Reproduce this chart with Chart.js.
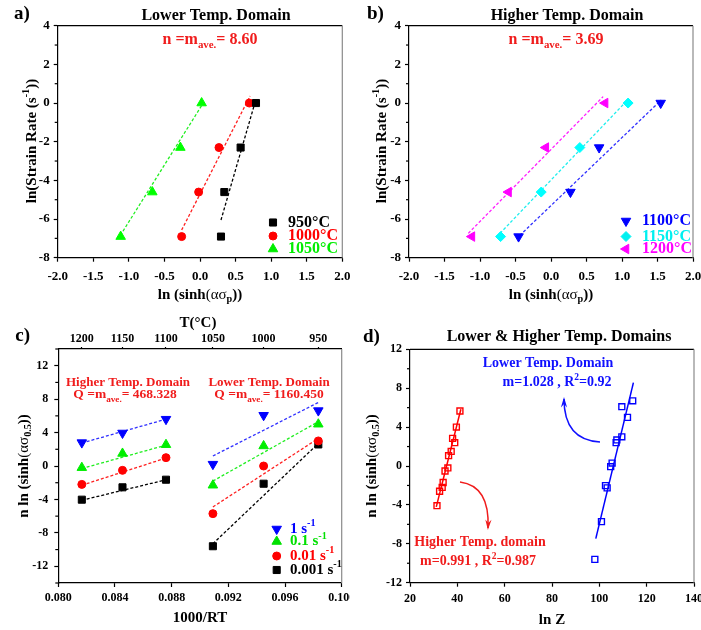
<!DOCTYPE html>
<html>
<head>
<meta charset="utf-8">
<script src="https://cdn.jsdelivr.net/npm/chart.js@4"></script>
<style>
  body { margin: 0; background: #fff; width: 701px; height: 630px; position: relative; overflow: hidden; }
  canvas { position: absolute; }
</style>
</head>
<body>
<canvas id="ca" width="350" height="310" style="left:0;top:0"></canvas>
<canvas id="cb" width="351" height="310" style="left:350px;top:0"></canvas>
<canvas id="cc" width="350" height="320" style="left:0;top:310px"></canvas>
<canvas id="cd" width="351" height="320" style="left:350px;top:310px"></canvas>
<script>
// ---- data ----
// a) lower temp domain: ln(strain rate) vs ln(sinh(a*sigma_p))
const lnRate = [0, -2.303, -4.605, -6.908];
const a950 = [0.787, 0.571, 0.342, 0.295];
const a1000 = [0.693, 0.267, -0.019, -0.258];
const a1050 = [0.023, -0.276, -0.670, -1.115];
const fitA950X = [0.295, 0.775], fitA950Y = [-6.05, 0.05];
const fitA1000X = [-0.258, 0.703], fitA1000Y = [-6.57, 0.36];
const fitA1050X = [-1.12, 0.02], fitA1050Y = [-6.85, -0.15];

// b) higher temp domain
const b1100 = [1.545, 0.678, 0.274, -0.457];
const b1150 = [1.086, 0.406, -0.138, -0.710];
const b1200 = [0.762, -0.073, -0.598, -1.114];
const fitB1100X = [-0.44, 1.554], fitB1100Y = [-6.85, 0.16];
const fitB1150X = [-0.718, 1.08], fitB1150Y = [-6.74, 0.16];
const fitB1200X = [-1.165, 0.734], fitB1200Y = [-6.74, 0.33];

// c) n ln(sinh) vs 1000/RT
const tempC = [1200, 1150, 1100, 1050, 1000, 950];
const invRT = [0.08166, 0.08453, 0.08760, 0.09091, 0.09449, 0.09835];
const c1 = [2.8, 3.95, 5.6, 0.22, 6.07, 6.63];
const c01 = [-0.2, 1.5, 2.55, -2.3, 2.4, 5.0];
const c001 = [-2.2, -0.52, 1.0, -5.7, 0.0, 3.0];
const c0001 = [-4.03, -2.55, -1.64, -9.6, -2.12, 2.58];
const hiX = [0.08166, 0.08760], loX = [0.09091, 0.09835];
const fitHi1 = [2.75, 5.6], fitHi01 = [-0.3, 2.5], fitHi001 = [-2.3, 0.95], fitHi0001 = [-4.1, -1.65];
const fitLo1 = [1.2, 7.6], fitLo01 = [-1.8, 5.3], fitLo001 = [-4.9, 3.3], fitLo0001 = [-9.3, 2.7];

// d) n ln(sinh) vs ln Z
const dHighX = [31.4, 32.5, 33.6, 34.0, 34.8, 36.0, 36.3, 37.4, 38.0, 38.9, 39.6, 41.1];
const dHighY = [-4.08, -2.6, -2.2, -1.7, -0.51, -0.2, 1.06, 1.5, 2.84, 2.4, 4.0, 5.66];
const dLowX = [98.1, 100.9, 102.6, 103.3, 104.8, 105.4, 107.1, 107.4, 109.5, 109.5, 111.9, 114.1];
const dLowY = [-9.6, -5.72, -2.02, -2.25, -0.07, 0.3, 2.4, 2.68, 3.0, 6.1, 5.0, 6.7];
const fitDHighX = [31.1, 41.5], fitDHighY = [-4.2, 5.83];
const fitDLowX = [98.5, 114.4], fitDLowY = [-7.47, 8.57];

// tick labels
const ticksAB_X = [-2, -1.5, -1, -0.5, 0, 0.5, 1, 1.5, 2];
const ticksAB_Y = [-8, -6, -4, -2, 0, 2, 4];
const ticksC_X = [0.080, 0.084, 0.088, 0.092, 0.096, 0.100];
const ticksCD_Y = [-12, -8, -4, 0, 4, 8, 12];
const ticksD_X = [20, 40, 60, 80, 100, 120, 140];

const SERIF = '"Liberation Serif", "Times New Roman", serif';
const RED = '#f01c1c', BLUE = '#1010ff';

function fontFor(size, kind) {
  if (kind === 'g') return size + 'px ' + SERIF;
  const s = (kind === 'sub' || kind === 'sup') ? size * 0.68 : size;
  return 'bold ' + s + 'px ' + SERIF;
}
function rich(ctx, parts, x, y, size, color, align) {
  ctx.save();
  ctx.fillStyle = color;
  ctx.textBaseline = 'middle';
  ctx.textAlign = 'left';
  let w = 0;
  parts.forEach(p => { ctx.font = fontFor(size, p[1]); w += ctx.measureText(p[0]).width; });
  let cx = align === 'center' ? x - w / 2 : align === 'right' ? x - w : x;
  parts.forEach(p => {
    ctx.font = fontFor(size, p[1]);
    const dy = p[1] === 'sub' ? size * 0.32 : p[1] === 'sup' ? -size * 0.35 : 0;
    ctx.fillText(p[0], cx, y + dy);
    cx += ctx.measureText(p[0]).width;
  });
  ctx.restore();
}
function vrich(ctx, parts, x, y, size, color) {
  ctx.save();
  ctx.translate(x, y);
  ctx.rotate(-Math.PI / 2);
  rich(ctx, parts, 0, 0, size, color, 'center');
  ctx.restore();
}
function legend(ctx, items, mx, tx, ys, size) {
  items.forEach((it, i) => {
    ctx.save();
    ctx.fillStyle = it.color;
    ctx.strokeStyle = it.color;
    ctx.lineWidth = 1;
    Chart.helpers.drawPoint(ctx, { pointStyle: it.style, rotation: it.rot || 0, radius: it.r, borderWidth: 1 }, mx, ys[i]);
    ctx.restore();
    rich(ctx, it.label, tx, ys[i], size, it.color, 'left');
  });
}
function arrow(ctx, x0, y0, cx, cy, x1, y1, color) {
  ctx.save();
  ctx.strokeStyle = color; ctx.fillStyle = color; ctx.lineWidth = 1.5;
  ctx.beginPath(); ctx.moveTo(x0, y0); ctx.quadraticCurveTo(cx, cy, x1, y1); ctx.stroke();
  const ang = Math.atan2(y1 - cy, x1 - cx);
  ctx.beginPath();
  ctx.moveTo(x1 + 2 * Math.cos(ang), y1 + 2 * Math.sin(ang));
  ctx.lineTo(x1 - 9 * Math.cos(ang - 0.35), y1 - 9 * Math.sin(ang - 0.35));
  ctx.lineTo(x1 - 5 * Math.cos(ang), y1 - 5 * Math.sin(ang));
  ctx.lineTo(x1 - 9 * Math.cos(ang + 0.35), y1 - 9 * Math.sin(ang + 0.35));
  ctx.closePath(); ctx.fill();
  ctx.restore();
}

function pts(xs, ys) { return xs.map((x, i) => ({ x: x, y: ys[i] })); }
function marks(xs, ys, color, style, rot, r) {
  return { data: pts(xs, ys), pointStyle: style, rotation: rot, pointRadius: r, backgroundColor: color,
    borderColor: color, borderWidth: 1, showLine: false };
}
function openMarks(xs, ys, color, r) {
  return { data: pts(xs, ys), pointStyle: 'rect', pointRadius: r, backgroundColor: 'rgba(255,255,255,0)',
    borderColor: color, borderWidth: 1.4, showLine: false };
}
function fit(xs, ys, color, solid) {
  return { data: pts(xs, ys), showLine: true, borderColor: color, borderWidth: solid ? 1.5 : 1.3,
    borderDash: solid ? [] : [3, 2], pointRadius: 0, fill: false };
}

function axis(min, max, ticks, fmt, size, pad, fitSize, horiz, pos) {
  return {
    type: 'linear', min: min, max: max, position: pos,
    afterBuildTicks: s => { s.ticks = ticks.map(v => ({ value: v })); },
    afterFit: s => {
      // fixed box sizes so the plot areas line up with the figure; labels may overflow
      if (horiz) { s.height = fitSize; s.paddingLeft = 0; s.paddingRight = 0; }
      else { s.width = fitSize; s.paddingTop = 0; s.paddingBottom = 0; }
    },
    ticks: { autoSkip: false, maxRotation: 0, padding: pad, color: '#000',
      font: { family: SERIF, weight: 'bold', size: size }, callback: fmt },
    grid: { drawOnChartArea: false, tickLength: 4, color: '#000', tickWidth: 1.2 },
    border: { color: '#000', width: 1.2 }
  };
}

function deco(draw, minorY, topLine) {
  return {
    id: 'deco',
    afterDraw(chart) {
      const ctx = chart.ctx, a = chart.chartArea, y = chart.scales.y;
      ctx.save();
      ctx.strokeStyle = '#000'; ctx.lineWidth = 1.2;
      minorY.forEach(v => {
        const py = y.getPixelForValue(v);
        ctx.beginPath(); ctx.moveTo(a.left, py); ctx.lineTo(a.left - 3, py); ctx.stroke();
      });
      if (topLine) { ctx.beginPath(); ctx.moveTo(a.left, a.top); ctx.lineTo(a.right, a.top); ctx.stroke(); }
      ctx.strokeStyle = '#8a8a8a';
      ctx.beginPath(); ctx.moveTo(a.right, a.top); ctx.lineTo(a.right, a.bottom); ctx.stroke();
      ctx.restore();
      draw(ctx, a);
    }
  };
}

function make(id, datasets, scales, padding, plugin) {
  return new Chart(document.getElementById(id), {
    type: 'scatter',
    data: { datasets: datasets },
    options: {
      responsive: false, animation: false,
      layout: { padding: padding },
      plugins: { legend: { display: false }, tooltip: { enabled: false } },
      scales: scales
    },
    plugins: [plugin]
  });
}

const f1 = v => v.toFixed(1);
const f0 = v => String(v);
const minorAB = [-7, -5, -3, -1, 1, 3];
const minorCD = [-14, -10, -6, -2, 2, 6, 10, 14];
const xTitleAB = [['ln (sinh', ''], ['(\u03b1\u03c3', 'g'], ['p', 'sub'], ['))', '']];
const yTitleAB = [['ln(Strain Rate (s', ''], ['-1', 'sup'], ['))', '']];
const yTitleCD = [['n ln (sinh', ''], ['(\u03b1\u03c3', 'g'], ['0.5', 'sub'], ['))', '']];

// ---- a) ----
make('ca', [
  marks(a950, lnRate, '#000', 'rect', 0, 5),
  marks(a1000, lnRate, '#ff0000', 'circle', 0, 4),
  marks(a1050, lnRate, '#00ff00', 'triangle', 0, 5.5),
  fit(fitA950X, fitA950Y, '#000'),
  fit(fitA1000X, fitA1000Y, '#ff2020'),
  fit(fitA1050X, fitA1050Y, '#20ee20')
], {
  x: axis(-2, 2, ticksAB_X, f1, 13, 7, 52.3, true, 'bottom'),
  y: axis(-8, 4, ticksAB_Y, f0, 13, 4, 57.7, false, 'left')
}, { left: 0, top: 25.7, right: 7.7, bottom: 0 }, deco((ctx, a) => {
  rich(ctx, [['a)', '']], 14, 14, 19, '#000', 'left');
  rich(ctx, [['Lower Temp. Domain', '']], 216, 16, 16, '#000', 'center');
  rich(ctx, [['n =m', ''], ['ave.', 'sub'], ['= 8.60', '']], 210, 40, 16, RED, 'center');
  rich(ctx, xTitleAB, 200, 295, 15, '#000', 'center');
  vrich(ctx, yTitleAB, 32, 141, 15, '#000');
  legend(ctx, [
    { color: '#000', style: 'rect', r: 5, label: [['950\u00b0C', '']] },
    { color: '#ff0000', style: 'circle', r: 4, label: [['1000\u00b0C', '']] },
    { color: '#00ee00', style: 'triangle', r: 5.5, label: [['1050\u00b0C', '']] }
  ], 273, 288, [222.5, 236, 249], 16);
}, minorAB, true));

// ---- b) ----
make('cb', [
  marks(b1100, lnRate, '#0000ff', 'triangle', 180, 5.5),
  marks(b1150, lnRate, '#00ffff', 'rectRot', 0, 5),
  marks(b1200, lnRate, '#ff00ff', 'triangle', 270, 5.5),
  fit(fitB1100X, fitB1100Y, '#3030ff'),
  fit(fitB1150X, fitB1150Y, '#20eeee'),
  fit(fitB1200X, fitB1200Y, '#ff20ff')
], {
  x: axis(-2, 2, ticksAB_X, f1, 13, 7, 52.3, true, 'bottom'),
  y: axis(-8, 4, ticksAB_Y, f0, 13, 4, 59, false, 'left')
}, { left: 0, top: 25.7, right: 8, bottom: 0 }, deco((ctx, a) => {
  rich(ctx, [['b)', '']], 17, 14, 19, '#000', 'left');
  rich(ctx, [['Higher Temp. Domain', '']], 217, 16, 16, '#000', 'center');
  rich(ctx, [['n =m', ''], ['ave.', 'sub'], ['= 3.69', '']], 206, 40, 16, RED, 'center');
  rich(ctx, xTitleAB, 201, 295, 15, '#000', 'center');
  vrich(ctx, yTitleAB, 32, 141, 15, '#000');
  legend(ctx, [
    { color: '#0000ff', style: 'triangle', rot: 180, r: 5.5, label: [['1100\u00b0C', '']] },
    { color: '#00f0f0', style: 'rectRot', r: 5, label: [['1150\u00b0C', '']] },
    { color: '#ff00ff', style: 'triangle', rot: 270, r: 5.5, label: [['1200\u00b0C', '']] }
  ], 276, 292, [221, 236.5, 249], 16);
}, minorAB, true));

// ---- c) ----
make('cc', [
  marks(invRT, c1, '#0000ff', 'triangle', 180, 5.5),
  marks(invRT, c01, '#00ee00', 'triangle', 0, 5.5),
  marks(invRT, c001, '#ff0000', 'circle', 0, 4),
  marks(invRT, c0001, '#000', 'rect', 0, 5),
  fit(hiX, fitHi1, '#3030ff'), fit(hiX, fitHi01, '#20ee20'), fit(hiX, fitHi001, '#ff2020'), fit(hiX, fitHi0001, '#000'),
  fit(loX, fitLo1, '#3030ff'), fit(loX, fitLo01, '#20ee20'), fit(loX, fitLo001, '#ff2020'), fit(loX, fitLo0001, '#000')
], {
  x: axis(0.08, 0.1, ticksC_X, v => v.toFixed(3), 12, 4, 47, true, 'bottom'),
  xt: Object.assign(axis(0.08, 0.1, invRT, (v, i) => String(tempC[i]), 12, 1, 39, true, 'top'),
    { grid: { drawOnChartArea: false, tickLength: 2, color: '#000', tickWidth: 1.2 } }),
  y: axis(-14, 14, ticksCD_Y, f0, 12, 6, 58.3, false, 'left')
}, { left: 0, top: 0, right: 8.3, bottom: 0 }, deco((ctx, a) => {
  rich(ctx, [['c)', '']], 30, 26, 19, '#000', 'right');
  rich(ctx, [['T(\u00b0C)', '']], 198, 13, 15, '#000', 'center');
  rich(ctx, [['Higher Temp. Domain', '']], 128, 73, 13, RED, 'center');
  rich(ctx, [['Q =m', ''], ['ave.', 'sub'], ['= 468.328', '']], 125, 85, 13.5, RED, 'center');
  rich(ctx, [['Lower Temp. Domain', '']], 269, 73, 13, RED, 'center');
  rich(ctx, [['Q =m', ''], ['ave.', 'sub'], ['= 1160.450', '']], 269, 85, 13.5, RED, 'center');
  rich(ctx, [['1000/RT', '']], 200, 308, 15, '#000', 'center');
  vrich(ctx, yTitleCD, 24, 156, 15, '#000');
  legend(ctx, [
    { color: '#0000ff', style: 'triangle', rot: 180, r: 5.5, label: [['1 s', ''], ['-1', 'sup']] },
    { color: '#00e000', style: 'triangle', r: 5.5, label: [['0.1 s', ''], ['-1', 'sup']] },
    { color: '#ff0000', style: 'circle', r: 4, label: [['0.01 s', ''], ['-1', 'sup']] },
    { color: '#000', style: 'rect', r: 5, label: [['0.001 s', ''], ['-1', 'sup']] }
  ], 276.7, 290, [219, 231.5, 246, 260], 15);
}, minorCD, false));

// ---- d) ----
make('cd', [
  openMarks(dHighX, dHighY, '#ff0000', 4.2),
  openMarks(dLowX, dLowY, '#0000ff', 4.2),
  fit(fitDHighX, fitDHighY, '#ff0000', true),
  fit(fitDLowX, fitDLowY, '#0000ff', true)
], {
  x: axis(20, 140, ticksD_X, f0, 12, 5, 47.3, true, 'bottom'),
  y: axis(-12, 12, ticksCD_Y, f0, 12, 4, 60, false, 'left')
}, { left: 0, top: 39.3, right: 7, bottom: 0 }, deco((ctx, a) => {
  rich(ctx, [['d)', '']], 13, 27, 19, '#000', 'left');
  rich(ctx, [['Lower & Higher Temp. Domains', '']], 209, 27, 16, '#000', 'center');
  rich(ctx, [['Lower Temp. Domain', '']], 198, 53, 14, BLUE, 'center');
  rich(ctx, [['m=1.028 , R', ''], ['2', 'sup'], ['=0.92', '']], 207, 72, 14, BLUE, 'center');
  rich(ctx, [['Higher Temp. domain', '']], 130, 232, 14, RED, 'center');
  rich(ctx, [['m=0.991 , R', ''], ['2', 'sup'], ['=0.987', '']], 128, 251, 14, RED, 'center');
  arrow(ctx, 250, 132, 214, 130, 214, 89, BLUE);
  arrow(ctx, 110, 172, 140, 176, 138, 218, RED);
  rich(ctx, [['ln Z', '']], 202, 310, 15, '#000', 'center');
  vrich(ctx, yTitleCD, 22, 156, 15, '#000');
}, [-10, -6, -2, 2, 6, 10], true));
</script>
</body>
</html>
